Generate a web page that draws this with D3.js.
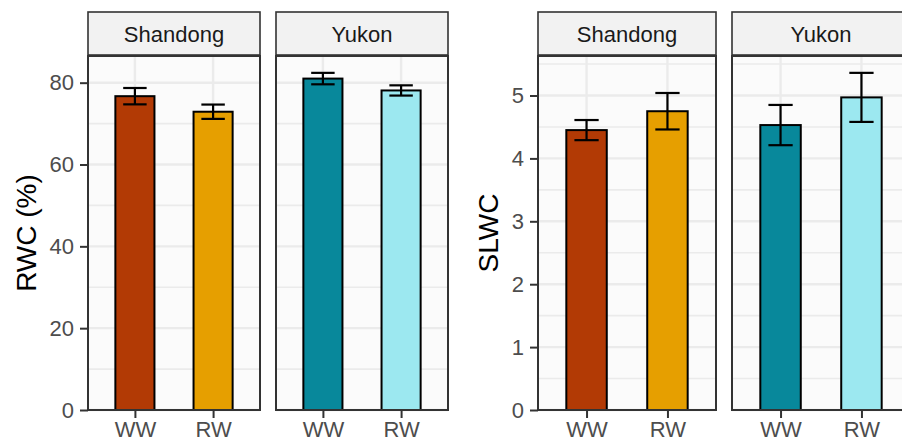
<!DOCTYPE html>
<html>
<head>
<meta charset="utf-8">
<script src="https://cdn.jsdelivr.net/npm/d3@7"></script>
<style>
  body { margin: 0; background: #fff; }
  text { font-family: "Liberation Sans", Arial, sans-serif; }
</style>
</head>
<body>
<div id="chart"></div>
<script>
// data (order: Shandong WW, Shandong RW, Yukon WW, Yukon RW)
var sites = ["Shandong", "Yukon"];
var treatments = ["WW", "RW"];
var rwcMean = [76.7, 72.9, 81.0, 78.1];
var rwcErr = [2.0, 1.75, 1.4, 1.25];
var slwcMean = [4.45, 4.75, 4.53, 4.97];
var slwcErr = [0.16, 0.29, 0.32, 0.39];
var fills = ["#B23A05", "#E69F00", "#08889B", "#9CE8F0"];
var rwcTicks = [0, 20, 40, 60, 80];
var slwcTicks = [0, 1, 2, 3, 4, 5];

var w = 902, h = 442;
var stripTop = 12, panelTop = 56, panelBottom = 410;

var svg = d3.select("#chart").append("svg")
    .attr("width", w)
    .attr("height", h);

function drawPlot(opts) {
    var means = opts.means, errs = opts.errs;
    var top = d3.max(means, function(d, i){ return d + errs[i]; }) * 1.05;

    var y = d3.scaleLinear()
        .domain([0, top])
        .range([panelBottom, panelTop]);

    var step = opts.ticks[1] - opts.ticks[0];
    var minor = opts.ticks.map(function(t){ return t + step / 2; })
        .filter(function(t){ return t < top; });

    sites.forEach(function(site, s) {
        var x0 = opts.panelX[s];
        var x = d3.scalePoint()
            .domain(treatments)
            .range([x0, x0 + opts.panelW])
            .padding(0.6);
        var bw = x.step() * 0.5;
        var cap = x.step() * 0.3;

        var g = svg.append("g");

        // strip
        g.append("rect")
            .attr("x", x0).attr("y", stripTop)
            .attr("width", opts.panelW).attr("height", panelTop - stripTop - 1)
            .attr("fill", "#F2F2F2")
            .attr("stroke", "#333333")
            .attr("stroke-width", 1.6);
        g.append("text")
            .attr("x", x0 + opts.panelW / 2)
            .attr("y", 42)
            .attr("text-anchor", "middle")
            .attr("font-size", 22)
            .attr("fill", "#1A1A1A")
            .text(site);

        // panel background + grid
        g.append("rect")
            .attr("x", x0).attr("y", panelTop)
            .attr("width", opts.panelW).attr("height", panelBottom - panelTop)
            .attr("fill", "#FBFBFB");

        g.selectAll(".minor")
            .data(minor)
            .enter().append("line")
            .attr("x1", x0).attr("x2", x0 + opts.panelW)
            .attr("y1", function(d){ return y(d); })
            .attr("y2", function(d){ return y(d); })
            .attr("stroke", "#EBEBEB")
            .attr("stroke-width", 1.6);

        g.selectAll(".major")
            .data(opts.ticks)
            .enter().append("line")
            .attr("x1", x0).attr("x2", x0 + opts.panelW)
            .attr("y1", function(d){ return y(d); })
            .attr("y2", function(d){ return y(d); })
            .attr("stroke", "#EBEBEB")
            .attr("stroke-width", 2.4);

        g.selectAll(".vgrid")
            .data(treatments)
            .enter().append("line")
            .attr("x1", function(d){ return x(d); })
            .attr("x2", function(d){ return x(d); })
            .attr("y1", panelTop).attr("y2", panelBottom)
            .attr("stroke", "#EBEBEB")
            .attr("stroke-width", 2.4);

        var rows = treatments.map(function(t, i) {
            var k = s * 2 + i;
            return { t: t, m: means[k], e: errs[k], fill: fills[k] };
        });

        g.selectAll(".bar")
            .data(rows)
            .enter().append("rect")
            .attr("x", function(d){ return x(d.t) - bw / 2; })
            .attr("y", function(d){ return y(d.m); })
            .attr("width", bw)
            .attr("height", function(d){ return y(0) - y(d.m); })
            .attr("fill", function(d){ return d.fill; })
            .attr("stroke", "#000")
            .attr("stroke-width", 2);

        var eb = g.selectAll(".err")
            .data(rows)
            .enter().append("g")
            .attr("stroke", "#000")
            .attr("stroke-width", 2.2);
        eb.append("line")
            .attr("x1", function(d){ return x(d.t); })
            .attr("x2", function(d){ return x(d.t); })
            .attr("y1", function(d){ return y(d.m - d.e); })
            .attr("y2", function(d){ return y(d.m + d.e); });
        eb.append("line")
            .attr("x1", function(d){ return x(d.t) - cap / 2; })
            .attr("x2", function(d){ return x(d.t) + cap / 2; })
            .attr("y1", function(d){ return y(d.m + d.e); })
            .attr("y2", function(d){ return y(d.m + d.e); });
        eb.append("line")
            .attr("x1", function(d){ return x(d.t) - cap / 2; })
            .attr("x2", function(d){ return x(d.t) + cap / 2; })
            .attr("y1", function(d){ return y(d.m - d.e); })
            .attr("y2", function(d){ return y(d.m - d.e); });

        // panel border
        g.append("rect")
            .attr("x", x0).attr("y", panelTop)
            .attr("width", opts.panelW).attr("height", panelBottom - panelTop)
            .attr("fill", "none")
            .attr("stroke", "#333333")
            .attr("stroke-width", 2);

        // x axis
        var xAxis = g.append("g")
            .attr("transform", "translate(0," + panelBottom + ")")
            .call(d3.axisBottom(x).tickSize(8).tickPadding(3));
        xAxis.select(".domain").remove();
        xAxis.selectAll(".tick line").attr("stroke", "#333333").attr("stroke-width", 2);
        xAxis.selectAll(".tick text")
            .attr("font-size", 22)
            .attr("fill", "#4D4D4D")
            .attr("font-family", "Liberation Sans, Arial, sans-serif");
    });

    // y axis on the first panel
    var yAxis = svg.append("g")
        .attr("transform", "translate(" + opts.panelX[0] + ",0)")
        .call(d3.axisLeft(y).tickValues(opts.ticks).tickFormat(d3.format("d"))
            .tickSize(8).tickPadding(6));
    yAxis.select(".domain").remove();
    yAxis.selectAll(".tick line").attr("stroke", "#333333").attr("stroke-width", 2);
    yAxis.selectAll(".tick text")
        .attr("font-size", 22)
        .attr("fill", "#4D4D4D")
        .attr("font-family", "Liberation Sans, Arial, sans-serif");

    svg.append("text")
        .attr("transform", "translate(" + opts.titleX + "," + (panelTop + panelBottom) / 2 + ") rotate(-90)")
        .attr("text-anchor", "middle")
        .attr("dy", "0.35em")
        .attr("font-size", 28)
        .attr("fill", "#000")
        .text(opts.title);
}

drawPlot({
    means: rwcMean, errs: rwcErr, ticks: rwcTicks,
    panelX: [88, 276], panelW: 172, titleX: 26, title: "RWC (%)"
});

drawPlot({
    means: slwcMean, errs: slwcErr, ticks: slwcTicks,
    panelX: [538, 732], panelW: 178, titleX: 488, title: "SLWC"
});
</script>
</body>
</html>
